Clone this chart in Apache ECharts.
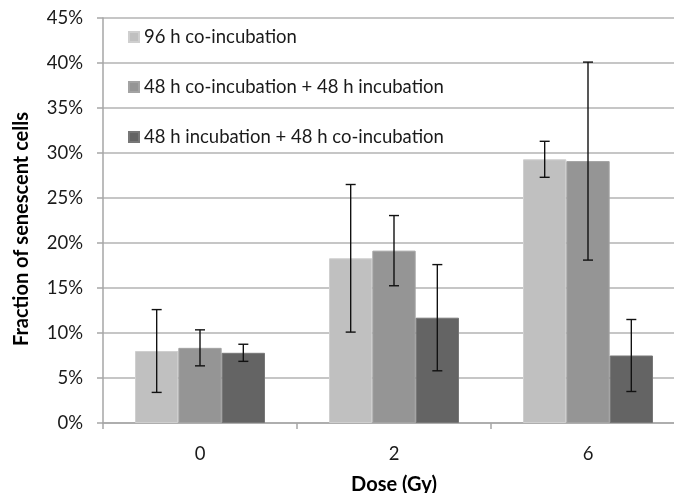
<!DOCTYPE html>
<html>
<head>
<meta charset="utf-8">
<style>
  html, body { margin: 0; padding: 0; background: #ffffff; }
  #chart { width: 674px; height: 493px; }
</style>
<script src="https://cdn.jsdelivr.net/npm/echarts@6/dist/echarts.min.js"></script>
</head>
<body>
<div id="chart"></div>
<script>
// Dose groups on the x axis
const doses = ['0', '2', '6'];
const yTicks = [0, 5, 10, 15, 20, 25, 30, 35, 40, 45];

// Mean fraction of senescent cells (%) per treatment
const seriesNames = [
  '96 h co-incubation',
  '48 h co-incubation + 48 h incubation',
  '48 h incubation + 48 h co-incubation'
];
const coInc96 = [8.0, 18.3, 29.3];
const coInc48Inc48 = [8.35, 19.15, 29.1];
const inc48CoInc48 = [7.8, 11.7, 7.5];

// Error bar half-widths (%)
const err96 = [4.6, 8.2, 2.0];
const err48a = [2.0, 3.9, 11.0];
const err48b = [0.95, 5.9, 4.0];

const means = [coInc96, coInc48Inc48, inc48CoInc48];
const errs = [err96, err48a, err48b];
const colors = ['#c0c0c0', '#959595', '#646464'];
const borders = ['#cfcfcf', '#a3a3a3', '#777777'];

const CATEGORY_GAP = 0.33;
const FONT = 'Lato, "Open Sans", sans-serif';
const LABEL_SIZE = 18.5;
const NAME_SIZE = 20;

const chart = echarts.init(document.getElementById('chart'));

function errorSeries(k) {
  const data = doses.map((d, i) => [i, means[k][i], errs[k][i]]);
  return {
    type: 'custom',
    name: seriesNames[k] + ' error',
    silent: true,
    z: 10,
    data: data,
    renderItem: function (params, api) {
      const idx = api.value(0);
      const m = api.value(1);
      const e = api.value(2);
      const band = api.size([1, 0])[0];
      const barW = band * (1 - CATEGORY_GAP) / 3;
      const center = api.coord([idx, m]);
      const x = center[0] + (k - 1) * barW;
      const top = api.coord([idx, m + e])[1];
      const bot = api.coord([idx, m - e])[1];
      const cap = 5;
      const style = { stroke: '#111111', lineWidth: 1.4 };
      return {
        type: 'group',
        children: [
          { type: 'line', shape: { x1: x, y1: top, x2: x, y2: bot }, style: style },
          { type: 'line', shape: { x1: x - cap, y1: top, x2: x + cap, y2: top }, style: style },
          { type: 'line', shape: { x1: x - cap, y1: bot, x2: x + cap, y2: bot }, style: style }
        ]
      };
    }
  };
}

const barSeries = means.map((vals, k) => ({
  type: 'bar',
  name: seriesNames[k],
  data: vals,
  barGap: '0%',
  barCategoryGap: (CATEGORY_GAP * 100) + '%',
  itemStyle: { color: colors[k], borderColor: borders[k], borderWidth: 1 }
}));

chart.setOption({
  animation: false,
  backgroundColor: '#ffffff',
  grid: {
    left: 103, top: 18, width: 582, height: 405,
    containLabel: false,
    outerBoundsMode: 'none'
  },
  legend: {
    orient: 'vertical',
    left: 123,
    top: 22,
    itemWidth: 10,
    itemHeight: 10,
    itemGap: 30,
    icon: 'rect',
    data: seriesNames,
    textStyle: { fontFamily: FONT, fontSize: LABEL_SIZE, lineHeight: 20, color: '#1a1a1a', padding: [0, 0, 0, 0] }
  },
  graphic: [{
    type: 'text',
    x: 22,
    y: 229,
    rotation: Math.PI / 2,
    style: {
      text: 'Fraction of senescent cells',
      fontFamily: FONT,
      fontSize: NAME_SIZE,
      fontWeight: 'bold',
      fill: '#000000',
      textAlign: 'center',
      textVerticalAlign: 'middle'
    }
  }],
  xAxis: {
    type: 'category',
    data: doses,
    name: 'Dose (Gy)',
    nameLocation: 'middle',
    nameGap: 52,
    nameTextStyle: { fontFamily: FONT, fontSize: NAME_SIZE, fontWeight: 'bold', color: '#000000' },
    axisLine: { lineStyle: { color: '#a6a6a6', width: 1.5 } },
    axisTick: { show: true, length: 6, lineStyle: { color: '#a6a6a6', width: 1.5 } },
    axisLabel: { fontFamily: FONT, fontSize: LABEL_SIZE, color: '#1a1a1a', margin: 22 }
  },
  yAxis: {
    type: 'value',
    min: yTicks[0],
    max: yTicks[yTicks.length - 1],
    interval: 5,
    axisLine: { show: true, lineStyle: { color: '#a6a6a6', width: 1.5 } },
    axisTick: { show: true, length: 6, lineStyle: { color: '#a6a6a6', width: 1.5 } },
    axisLabel: { fontFamily: FONT, fontSize: LABEL_SIZE, color: '#1a1a1a', margin: 20, formatter: v => v + '%' },
    splitLine: { lineStyle: { color: '#b3b3b3', width: 1.5 } }
  },
  series: barSeries.concat([0, 1, 2].map(errorSeries))
});
</script>
</body>
</html>
